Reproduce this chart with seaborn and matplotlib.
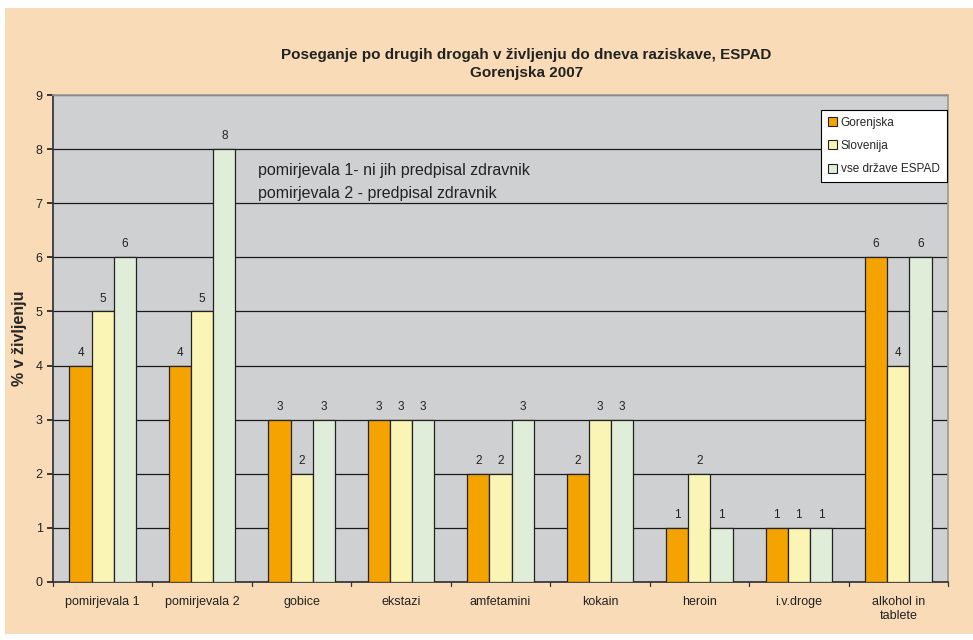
import matplotlib
matplotlib.use("Agg")
import matplotlib.pyplot as plt
import seaborn as sns
import pandas as pd
from matplotlib.patches import Rectangle

categories = ["pomirjevala 1", "pomirjevala 2", "gobice", "ekstazi", "amfetamini",
              "kokain", "heroin", "i.v.droge", "alkohol in\ntablete"]
series_names = ["Gorenjska", "Slovenija", "vse države ESPAD"]
gorenjska = [4, 4, 3, 3, 2, 2, 1, 1, 6]
slovenija = [5, 5, 2, 3, 2, 3, 2, 1, 4]
espad = [6, 8, 3, 3, 3, 3, 1, 1, 6]
yticks = list(range(0, 10))

colors = ["#F5A300", "#FAF5B4", "#E0EDD8"]

df = pd.DataFrame({
    "cat": categories * 3,
    "series": [series_names[0]] * 9 + [series_names[1]] * 9 + [series_names[2]] * 9,
    "val": gorenjska + slovenija + espad,
})

sns.set_theme(style="white")
plt.rcParams["font.family"] = ["Liberation Sans", "DejaVu Sans"]

fig = plt.figure(figsize=(9.73, 6.4), dpi=100)
fig.patch.set_facecolor("white")
fig.patches.append(Rectangle((5 / 973, 6 / 640), 968 / 973, 626 / 640,
                             transform=fig.transFigure, facecolor="#F9DCB7",
                             edgecolor="none", zorder=-10))

ax = fig.add_axes([53 / 973, 58 / 640, 895 / 973, 487 / 640])
ax.set_facecolor("#CFD0D2")

sns.barplot(data=df, x="cat", y="val", hue="series", hue_order=series_names,
            palette=colors, saturation=1, order=categories, width=0.67, gap=0,
            edgecolor="#222222", linewidth=0.9, ax=ax, zorder=3, errorbar=None)

for c in ax.containers:
    ax.bar_label(c, labels=[f"{int(v)}" for v in c.datavalues], padding=5,
                 fontsize=8.5, color="#222222")

ax.set_ylim(0, 9)
ax.set_yticks(yticks)
ax.set_xlim(-0.5, len(categories) - 0.5)
ax.yaxis.grid(True, color="#1a1a1a", linewidth=0.9, zorder=0)
ax.set_axisbelow(True)
for s in ["top", "right"]:
    ax.spines[s].set_visible(True)
    ax.spines[s].set_color("#9a9a9a")
ax.spines["left"].set_color("#333333")
ax.spines["bottom"].set_color("#333333")
ax.tick_params(axis="y", length=4, direction="out", labelsize=9, colors="#222222", left=True)
ax.tick_params(axis="x", length=0, labelsize=9, colors="#222222", pad=10)
ax.set_xticks([i for i in range(len(categories))])
ax.set_xticklabels(categories)
# group boundary ticks
for i in range(len(categories) + 1):
    ax.plot([i - 0.5, i - 0.5], [0, -0.08], color="#333333", lw=0.9,
            clip_on=False, zorder=5)

ax.set_xlabel("")
ax.set_ylabel("% v življenju", fontsize=11.5, fontweight="bold", labelpad=6)

leg = ax.legend(loc="upper right", bbox_to_anchor=(0.9985, 0.97), frameon=True,
                fancybox=False, fontsize=8.5, handlelength=0.8, handleheight=0.8,
                handletextpad=0.3, borderpad=0.6, labelspacing=0.95, borderaxespad=0,
                framealpha=1)
leg.get_frame().set_edgecolor("#000000")
leg.get_frame().set_linewidth(0.8)
leg.get_frame().set_facecolor("white")
for h in leg.legend_handles:
    h.set_edgecolor("#222222")
    h.set_linewidth(0.8)

ax.text(1.56, 7.6, "pomirjevala 1- ni jih predpisal zdravnik", fontsize=11.5,
        color="#222222", va="center", ha="left", zorder=6)
ax.text(1.56, 7.18, "pomirjevala 2 - predpisal zdravnik", fontsize=11.5,
        color="#222222", va="center", ha="left", zorder=6)

fig.text(0.541, 585 / 640, "Poseganje po drugih drogah v življenju do dneva raziskave, ESPAD",
         ha="center", va="center", fontsize=11, fontweight="bold", color="#222222")
fig.text(0.541, 567 / 640, "Gorenjska 2007", ha="center", va="center",
         fontsize=11, fontweight="bold", color="#222222")

fig.savefig("out.png", dpi=100, facecolor=fig.get_facecolor())
